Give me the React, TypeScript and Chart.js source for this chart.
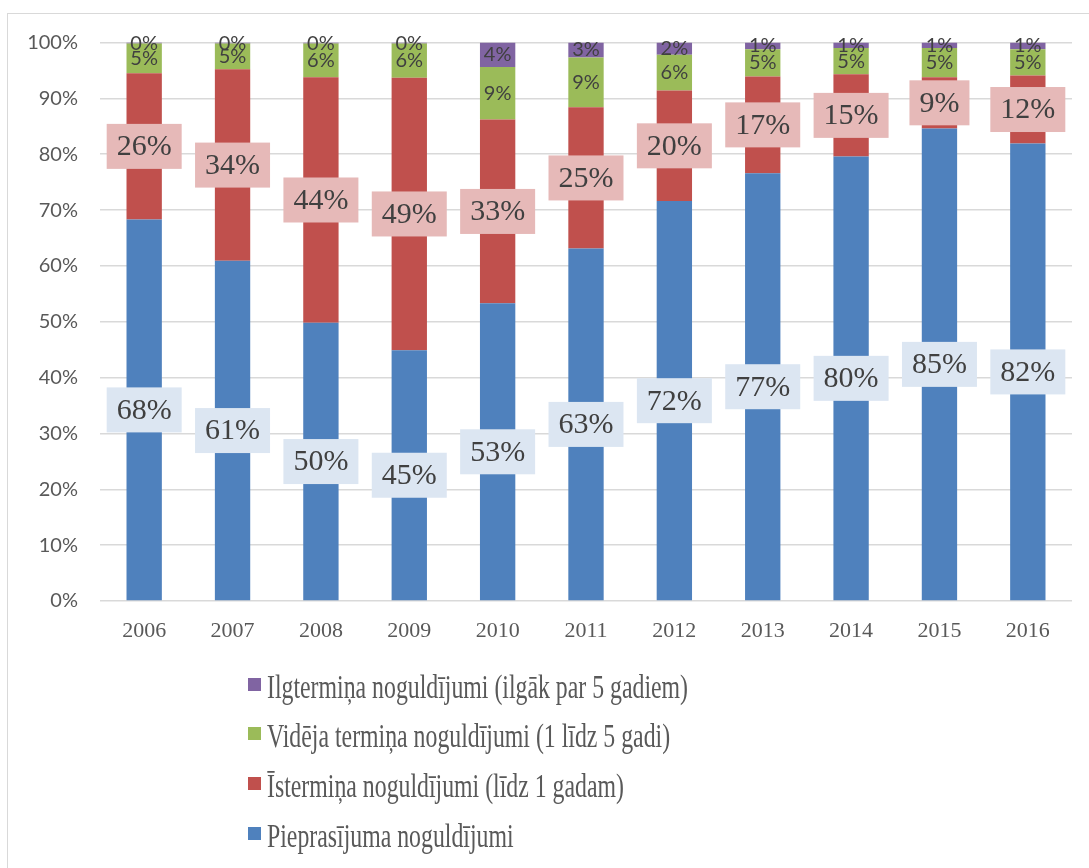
import React, { useEffect, useRef } from 'react';
import { Chart, registerables } from 'chart.js';

Chart.register(...registerables);

const years = ['2006', '2007', '2008', '2009', '2010', '2011', '2012', '2013', '2014', '2015', '2016'];
const demandDeposits = [68.3, 60.9, 49.8, 44.9, 53.3, 63.1, 71.6, 76.6, 79.6, 84.6, 81.9];
const shortTermDeposits = [26.2, 34.3, 44.0, 48.8, 32.9, 25.3, 19.8, 17.3, 14.7, 9.2, 12.2];
const mediumTermDeposits = [5.3, 4.6, 6.0, 6.1, 9.4, 8.9, 6.4, 4.9, 4.7, 5.2, 4.7];
const longTermDeposits = [0.2, 0.2, 0.2, 0.2, 4.4, 2.7, 2.2, 1.2, 1.0, 1.0, 1.2];

const seriesNames = [
  'Pieprasījuma noguldījumi',
  'Īstermiņa noguldījumi (līdz 1 gadam)',
  'Vidēja termiņa noguldījumi (1 līdz 5 gadi)',
  'Ilgtermiņa noguldījumi (ilgāk par 5 gadiem)',
];
const seriesColors = ['#4F81BD', '#C0504D', '#9BBB59', '#8064A2'];
const labelBoxColors = ['#DCE6F2', '#E6B9B8'];

const W = 1081;
const H = 854;

const labelPlugin = {
  id: 'segLabels',
  afterDatasetsDraw(chart: any) {
    const ctx = chart.ctx;
    chart.data.datasets.forEach((ds: any, di: number) => {
      const meta = chart.getDatasetMeta(di);
      meta.data.forEach((el: any, i: number) => {
        const v = ds.data[i];
        const txt = Math.round(v) + '%';
        const cx = el.x;
        const cy = (el.y + el.base) / 2;
        ctx.save();
        if (di < 2) {
          ctx.font = '30px "Liberation Serif", "Times New Roman", serif';
          const w = ctx.measureText(txt).width;
          const bw = w + 20;
          const bh = 45;
          ctx.fillStyle = labelBoxColors[di];
          ctx.fillRect(cx - bw / 2, cy - bh / 2, bw, bh);
          ctx.fillStyle = '#404040';
          ctx.textAlign = 'center';
          ctx.textBaseline = 'middle';
          ctx.fillText(txt, cx, cy + 1);
        } else {
          ctx.font = '20px Lato, "Open Sans", sans-serif';
          ctx.fillStyle = '#404040';
          ctx.textAlign = 'center';
          ctx.textBaseline = 'middle';
          ctx.fillText(txt, cx, cy);
        }
        ctx.restore();
      });
    });
  },
};

const legendPlugin = {
  id: 'vertLegend',
  afterDraw(chart: any) {
    const ctx = chart.ctx;
    const n = chart.data.datasets.length;
    const baselines = [684, 733, 783, 833];
    for (let k = 0; k < n; k++) {
      const di = n - 1 - k;
      const ds = chart.data.datasets[di];
      const by = baselines[k];
      ctx.save();
      ctx.fillStyle = ds.backgroundColor;
      ctx.fillRect(240, by - 20, 13, 13);
      ctx.translate(259, by);
      ctx.scale(0.7, 1);
      ctx.font = '34px "Liberation Serif", "Times New Roman", serif';
      ctx.fillStyle = '#595959';
      ctx.textAlign = 'left';
      ctx.textBaseline = 'alphabetic';
      ctx.fillText(ds.label, 0, 0);
      ctx.restore();
    }
  },
};

export default function App() {
  const ref = useRef<HTMLCanvasElement | null>(null);
  useEffect(() => {
    if (!ref.current) return;
    const series = [demandDeposits, shortTermDeposits, mediumTermDeposits, longTermDeposits];
    const chart = new Chart(ref.current, {
      type: 'bar',
      data: {
        labels: years,
        datasets: series.map((d, i) => ({
          label: seriesNames[i],
          data: d,
          backgroundColor: seriesColors[i],
          borderWidth: 0,
          barPercentage: 0.4,
          categoryPercentage: 1,
        })),
      },
      options: {
        responsive: false,
        animation: false,
        layout: { padding: { top: 28.5, left: 0, right: 17, bottom: 200 } },
        plugins: { legend: { display: false }, tooltip: { enabled: false } },
        scales: {
          x: {
            stacked: true,
            grid: { display: false, drawTicks: false },
            border: { display: false },
            ticks: {
              color: '#595959',
              padding: 17,
              font: { family: '"Liberation Serif", "Times New Roman", serif', size: 22 },
            },
            afterFit: (s: any) => { s.height = 67; },
          },
          y: {
            stacked: true,
            min: 0,
            max: 100,
            grid: { color: '#d9d9d9', lineWidth: 1.5, drawTicks: false },
            border: { display: false },
            ticks: {
              stepSize: 10,
              color: '#595959',
              padding: 22,
              font: { family: 'Lato, "Open Sans", sans-serif', size: 20 },
              callback: (v: any) => v + '%',
            },
            afterFit: (s: any) => {
              s.width = 92;
              s.paddingTop = 12;
              s.paddingBottom = 12;
            },
          },
        },
      },
      plugins: [labelPlugin, legendPlugin],
    });
    return () => chart.destroy();
  }, []);

  return (
    <div
      style={{
        position: 'fixed',
        left: 7,
        top: 13,
        width: W + 1,
        height: H + 1,
        borderLeft: '1px solid #d9d9d9',
        borderTop: '1px solid #d9d9d9',
        background: '#fff',
        boxSizing: 'border-box',
      }}
    >
      <canvas ref={ref} width={W} height={H} style={{ width: W, height: H, display: 'block' }} />
    </div>
  );
}
